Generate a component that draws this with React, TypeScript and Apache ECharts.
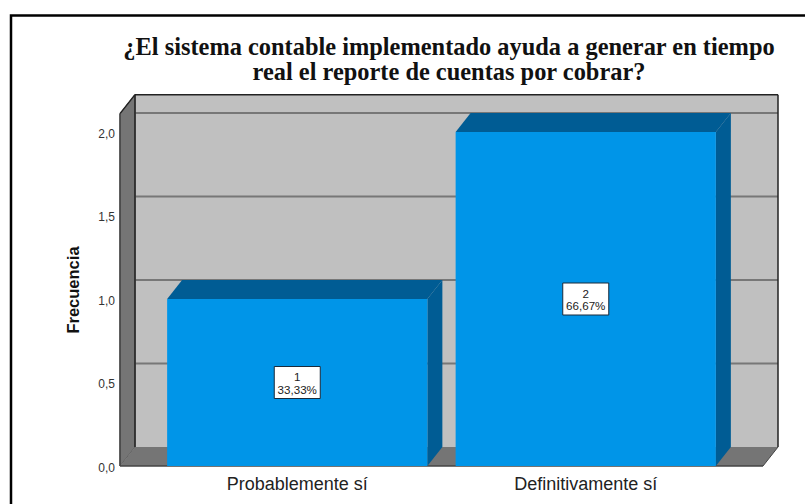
import React, { useEffect, useRef } from "react";
import * as echarts from "echarts";

const titleLines = [
  "¿El sistema contable implementado ayuda a generar en tiempo",
  "real el reporte de cuentas por cobrar?",
];
const yAxisName = "Frecuencia";
const categories = ["Probablemente sí", "Definitivamente sí"];
const counts = [1, 2];
const percents = ["33,33%", "66,67%"];
const yTicks = [0, 0.5, 1, 1.5, 2];
const wallTop = 2.11;

const DX = 15;
const DY = -19;
const INSET = 33;
const BAR_RATIO = 0.902;
const BAR_FRONT = "#0095E8";
const BAR_DARK = "#005C94";
const WALL = "#C0C0C0";
const FLOOR = "#757575";

const renderWalls = (params: any, api: any) => {
  const cs = params.coordSys;
  const l = cs.x - INSET;
  const r = cs.x + cs.width + INSET;
  const y0 = api.coord([0, 0])[1];
  const yT = api.coord([0, wallTop])[1];
  const line = (x1: number, y1: number, x2: number, y2: number, stroke: string, lineWidth: number) => ({
    type: "line",
    shape: { x1, y1, x2, y2 },
    style: { stroke, lineWidth },
  });
  const children: any[] = [
    {
      type: "polygon",
      shape: { points: [[l + DX, yT + DY], [r + DX, yT + DY], [r + DX, y0 + DY], [l + DX, y0 + DY]] },
      style: { fill: WALL },
    },
    {
      type: "polygon",
      shape: { points: [[l, yT], [l + DX, yT + DY], [l + DX, y0 + DY], [l, y0]] },
      style: { fill: FLOOR, stroke: "#555555", lineWidth: 1 },
    },
    {
      type: "polygon",
      shape: { points: [[l, y0], [l + DX, y0 + DY], [r + DX, y0 + DY], [r, y0]] },
      style: { fill: FLOOR },
    },
  ];
  yTicks.slice(1).forEach((t) => {
    const y = api.coord([0, t])[1] + DY;
    children.push(line(l + DX, y, r + DX, y, "#777777", 2));
  });
  children.push(
    line(l + DX, yT + DY, r + DX, yT + DY, "#222222", 1.5),
    line(r + DX, yT + DY, r + DX, y0 + DY, "#222222", 1.5),
    line(l + DX, yT + DY, l + DX, y0 + DY, "#222222", 1.5),
    line(l, yT, l + DX, yT + DY, "#222222", 1.5),
    line(l, yT, l, y0, "#444444", 1.5),
    line(l, y0, r, y0, "#444444", 1.5),
    line(r, y0, r + DX, y0 + DY, "#444444", 1),
  );
  return { type: "group", children };
};

const renderBars = (params: any, api: any) => {
  const idx = api.value(0);
  const val = api.value(1);
  const [cx, yTop] = api.coord([idx, val]);
  const y0 = api.coord([idx, 0])[1];
  const w = api.size([1, 0])[0] * BAR_RATIO;
  const a = cx - w / 2;
  const b = cx + w / 2;
  return {
    type: "group",
    children: [
      {
        type: "polygon",
        shape: { points: [[a, yTop], [a + DX, yTop + DY], [b + DX, yTop + DY], [b, yTop]] },
        style: { fill: BAR_DARK },
      },
      {
        type: "polygon",
        shape: { points: [[b, yTop], [b + DX, yTop + DY], [b + DX, y0 + DY], [b, y0]] },
        style: { fill: BAR_DARK },
      },
      {
        type: "rect",
        shape: { x: a, y: yTop, width: w, height: y0 - yTop },
        style: { fill: BAR_FRONT },
      },
    ],
  };
};

const renderLabels = (params: any, api: any) => {
  const idx = api.value(0);
  const val = api.value(1);
  const [cx, cy] = api.coord([idx, val / 2]);
  const labelFont = "11.6px 'Liberation Sans', Arial, sans-serif";
  return {
    type: "group",
    children: [
      {
        type: "rect",
        shape: { x: cx - 23, y: cy - 16, width: 46, height: 32 },
        style: { fill: "#FFFFFF", stroke: "#1A2A3A", lineWidth: 1 },
      },
      {
        type: "text",
        style: { x: cx, y: cy - 6, text: String(val), fill: "#222222", align: "center", verticalAlign: "middle", font: labelFont },
      },
      {
        type: "text",
        style: { x: cx, y: cy + 6.5, text: percents[idx], fill: "#222222", align: "center", verticalAlign: "middle", font: labelFont },
      },
    ],
  };
};

export default function App() {
  const ref = useRef<HTMLDivElement>(null);
  useEffect(() => {
    const chart = echarts.init(ref.current!, undefined, { renderer: "svg" });
    const rows = counts.map((v, i) => [i, v]);
    chart.setOption({
      animation: false,
      backgroundColor: "#FFFFFF",
      title: {
        text: titleLines.join("\n"),
        left: 444,
        top: 29,
        textAlign: "center",
        textStyle: {
          fontFamily: "'Liberation Serif', 'Times New Roman', serif",
          fontWeight: "bold",
          fontSize: 24.4,
          lineHeight: 25,
          color: "#111111",
        },
      },
      grid: { left: 153, right: 75, top: 132, bottom: 38 },
      xAxis: {
        type: "category",
        data: categories,
        axisLine: { show: false },
        axisTick: { show: false },
        axisLabel: {
          fontFamily: "'Liberation Sans', Arial, sans-serif",
          fontSize: 18,
          color: "#222222",
          margin: 9,
        },
      },
      yAxis: {
        type: "value",
        min: 0,
        max: 2,
        interval: 0.5,
        axisLine: { show: false },
        axisTick: { show: false },
        splitLine: { show: false },
        axisLabel: {
          fontFamily: "'Liberation Sans', Arial, sans-serif",
          fontSize: 12,
          color: "#333333",
          margin: 38,
          verticalAlign: "top",
          lineHeight: 3,
          formatter: (v: number) => v.toFixed(1).replace(".", ","),
        },
      },
      graphic: [
        {
          type: "polyline",
          shape: { points: [[11, 504], [11, 15.5], [805, 15.5]] },
          style: { stroke: "#000000", lineWidth: 2.5, fill: "none" },
        },
        {
          type: "text",
          x: 73,
          y: 290,
          rotation: Math.PI / 2,
          style: {
            text: yAxisName,
            font: "bold 16.5px 'Liberation Sans', Arial, sans-serif",
            fill: "#111111",
            align: "center",
            verticalAlign: "middle",
          },
        },
      ],
      series: [
        { type: "custom", renderItem: renderWalls, data: [[0, 0]], clip: false, silent: true, z: 1 },
        { type: "custom", renderItem: renderBars, data: rows, clip: false, silent: true, z: 2 },
        { type: "custom", renderItem: renderLabels, data: rows, clip: false, silent: true, z: 3 },
      ],
    });
    return () => chart.dispose();
  }, []);
  return <div ref={ref} style={{ position: "absolute", left: 0, top: 0, width: 805, height: 504 }} />;
}
